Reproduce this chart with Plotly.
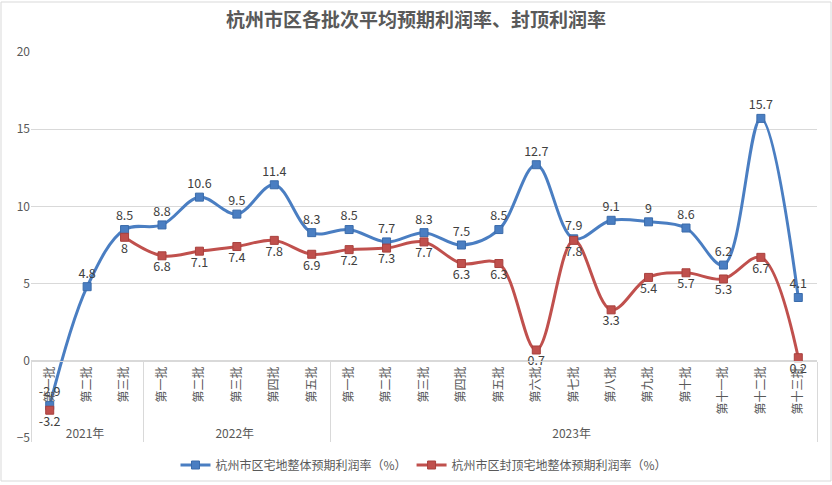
import plotly.graph_objects as go

years = ["2021年"] * 3 + ["2022年"] * 5 + ["2023年"] * 13
batches = ["第一批", "第二批", "第三批",
           "第一批", "第二批", "第三批", "第四批", "第五批",
           "第一批", "第二批", "第三批", "第四批", "第五批", "第六批", "第七批",
           "第八批", "第九批", "第十批", "第十一批", "第十二批", "第十三批"]
avg_profit = [-2.9, 4.8, 8.5, 8.8, 10.6, 9.5, 11.4, 8.3, 8.5, 7.7, 8.3, 7.5, 8.5,
              12.7, 7.9, 9.1, 9, 8.6, 6.2, 15.7, 4.1]
cap_profit = [-3.2, None, 8, 6.8, 7.1, 7.4, 7.8, 6.9, 7.2, 7.3, 7.7, 6.3, 6.3,
              0.7, 7.8, 3.3, 5.4, 5.7, 5.3, 6.7, 0.2]

name_avg = "杭州市区宅地整体预期利润率（%）"
name_cap = "杭州市区封顶宅地整体预期利润率（%）"

BLUE = "#4A7EC2"
RED = "#C0504D"
GRID = "#D9D9D9"
TXT = "#595959"
FONT = "Noto Sans CJK SC"

x = [years, batches]

fig = go.Figure()
fig.add_trace(go.Scatter(
    x=x, y=avg_profit, name=name_avg, mode="lines+markers+text",
    line=dict(color=BLUE, width=3, shape="spline", smoothing=1),
    marker=dict(symbol="square", size=8, color=BLUE, line=dict(color="#3A6BAA", width=1)),
    text=[("" if v is None else f"{v:g}") for v in avg_profit],
    textposition="top center",
    textfont=dict(size=12.5, color="#404040", family=FONT),
))
fig.add_trace(go.Scatter(
    x=x, y=cap_profit, name=name_cap, mode="lines+markers+text",
    line=dict(color=RED, width=3, shape="spline", smoothing=1),
    marker=dict(symbol="square", size=8, color=RED, line=dict(color="#A8403D", width=1)),
    text=[("" if v is None else f"{v:g}") for v in cap_profit],
    textposition="bottom center",
    textfont=dict(size=12.5, color="#404040", family=FONT),
    connectgaps=False,
))

L, R, T, B = 31, 15, 52, 47
W, H = 832, 485
pw = W - L - R
ph = H - T - B

fig.update_layout(
    width=W, height=H,
    margin=dict(l=L, r=R, t=T, b=B, autoexpand=False),
    paper_bgcolor="white", plot_bgcolor="white",
    font=dict(family=FONT, color=TXT, size=12),
    title=dict(text="<b>杭州市区各批次平均预期利润率、封顶利润率</b>",
               x=0.5, xref="container", xanchor="center",
               y=1 - 20 / H, yref="container", yanchor="middle",
               font=dict(size=19, color=TXT, family=FONT)),
    showlegend=True,
    legend=dict(orientation="h", x=0.5, xanchor="center", y=-27 / ph, yanchor="middle",
                font=dict(size=12, color=TXT, family=FONT), itemwidth=30,
                bgcolor="rgba(0,0,0,0)"),
    xaxis=dict(type="multicategory", anchor="free", position=5 / 25,
               range=[-0.5, len(batches) - 0.5], automargin=False,
               tickangle=-90, showline=True, linecolor=GRID, linewidth=1,
               showgrid=False, showdividers=True, dividercolor=GRID, dividerwidth=1,
               tickfont=dict(size=12, color=TXT, family=FONT), ticks=""),
    yaxis=dict(range=[-5, 20], dtick=5, tick0=0, showgrid=True, gridcolor=GRID,
               gridwidth=1, zeroline=False, showline=False, automargin=False,
               tickfont=dict(size=12, color=TXT, family=FONT)),
)

# outer chart border
fig.add_shape(type="rect", xref="paper", yref="paper",
              x0=(1 - L) / pw, x1=(W - 1 - L) / pw,
              y0=(438 - 481) / ph, y1=(438 - 2) / ph,
              line=dict(color=GRID, width=1), layer="below")

fig.write_html("out.html")
